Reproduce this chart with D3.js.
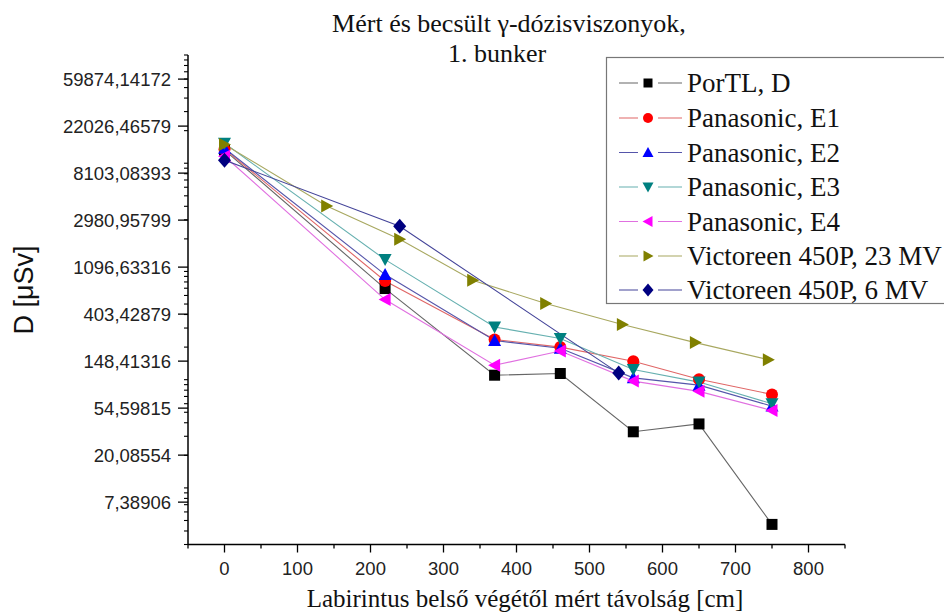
<!DOCTYPE html>
<html>
<head>
<meta charset="utf-8">
<script src="https://cdn.jsdelivr.net/npm/d3@7"></script>
<style>
  body { margin: 0; background: #fff; }
  svg { display: block; }
</style>
</head>
<body>
<svg id="chart" width="944" height="616"></svg>
<script>
// ---- data ----
const seriesNames = ["PorTL, D", "Panasonic, E1", "Panasonic, E2", "Panasonic, E3", "Panasonic, E4", "Victoreen 450P, 23 MV", "Victoreen 450P, 6 MV"];
const xPanasonic = [0, 220, 370, 460, 560, 650, 750];
const xVict23 = [0, 140, 240, 340, 440, 545, 645, 745];
const xVict6 = [0, 240, 540];
const portlD = [13200, 695, 110, 114, 33, 39, 4.6];
const panE1 = [13480, 817, 235, 200, 148, 101, 73];
const panE2 = [13760, 936, 230, 195, 104, 89, 57];
const panE3 = [15300, 1287, 307, 240, 124, 95, 60];
const panE4 = [11600, 550, 136, 184, 97, 78, 52];
const vict23 = [14900, 4030, 1986, 829, 505, 323, 220, 153];
const vict6 = [10680, 2617, 115];
const xTicks = [0, 100, 200, 300, 400, 500, 600, 700, 800];
const yTickExponents = [2, 3, 4, 5, 6, 7, 8, 9, 10, 11];
const yTickLabels = ["7,38906", "20,08554", "54,59815", "148,41316", "403,42879", "1096,63316", "2980,95799", "8103,08393", "22026,46579", "59874,14172"];
const titleLines = ["Mért és becsült γ-dózisviszonyok,", "1. bunker"];
const xTitle = "Labirintus belső végétől mért távolság [cm]";
const yTitle = "D [μSv]";

// ---- styles ----
const colors = ["#000000", "#ff0000", "#0000ff", "#008080", "#ff00ff", "#808000", "#000080"];
const lineColors = ["#666666", "#e06666", "#5555aa", "#66b0b0", "#e070e0", "#a8a860", "#444499"];
const shapes = ["square", "circle", "up", "down", "left", "right", "diamond"];
const serif = "'Liberation Serif', 'Times New Roman', serif";
const sans = "'Liberation Sans', Arial, sans-serif";

const series = [
  {x: xPanasonic, y: portlD},
  {x: xPanasonic, y: panE1},
  {x: xPanasonic, y: panE2},
  {x: xPanasonic, y: panE3},
  {x: xPanasonic, y: panE4},
  {x: xVict23, y: vict23},
  {x: xVict6, y: vict6}
];

const svg = d3.select("#chart");
const pLeft = 188, pRight = 845, pTop = 55, pBottom = 544.5;

const x = d3.scaleLinear().domain([-50, 850]).range([pLeft, pRight]);
const y = d3.scaleLog().domain([3, 100000]).range([pBottom, pTop]);

function markerPath(shape, s) {
  const h = s / 2;
  switch (shape) {
    case "square": return `M${-h},${-h}H${h}V${h}H${-h}Z`;
    case "circle": return d3.symbol(d3.symbolCircle, Math.PI * (h + 0.5) * (h + 0.5))();
    case "up": return `M0,${-h - 1}L${h + 1},${h}L${-h - 1},${h}Z`;
    case "down": return `M0,${h + 1}L${h + 1},${-h}L${-h - 1},${-h}Z`;
    case "left": return `M${-h - 1},0L${h},${-h - 1}L${h},${h + 1}Z`;
    case "right": return `M${h + 1},0L${-h},${-h - 1}L${-h},${h + 1}Z`;
    case "diamond": return `M0,${-h - 2}L${h + 1},0L0,${h + 2}L${-h - 1},0Z`;
  }
}

// ---- axes ----
const ax = svg.append("g").attr("fill", "none").attr("stroke", "#000");
ax.append("line").attr("x1", pLeft).attr("x2", pRight).attr("y1", pBottom).attr("y2", pBottom).attr("stroke-width", 1.5);
ax.append("line").attr("x1", pLeft).attr("x2", pLeft).attr("y1", pTop).attr("y2", pBottom).attr("stroke-width", 1.5);

const xMinor = d3.range(-50, 851, 50).filter(v => v % 100 !== 0);
xTicks.forEach(v => {
  ax.append("line").attr("x1", x(v)).attr("x2", x(v)).attr("y1", pBottom).attr("y2", pBottom + 8).attr("stroke-width", 1.3);
});
xMinor.forEach(v => {
  ax.append("line").attr("x1", x(v)).attr("x2", x(v)).attr("y1", pBottom).attr("y2", pBottom + 4).attr("stroke-width", 1.3);
});
svg.append("g").selectAll("text").data(xTicks).join("text")
  .attr("x", d => x(d)).attr("y", 575)
  .attr("text-anchor", "middle")
  .attr("font-family", sans)
  .attr("font-size", 18.5).attr("fill", "#222")
  .text(d => d);

const yMinor = [];
for (let k = 0; k <= 5; k++) for (let d = 1; d <= 9; d++) {
  const v = d * Math.pow(10, k);
  if (v >= 3 && v <= 100000) yMinor.push(v);
}
yMinor.forEach(v => {
  ax.append("line").attr("x1", pLeft - 4).attr("x2", pLeft).attr("y1", y(v)).attr("y2", y(v)).attr("stroke-width", 1.1);
});
yTickExponents.forEach(e => {
  ax.append("line").attr("x1", pLeft - 10).attr("x2", pLeft).attr("y1", y(Math.exp(e))).attr("y2", y(Math.exp(e))).attr("stroke-width", 1.3);
});
svg.append("g").selectAll("text").data(yTickExponents).join("text")
  .attr("x", 171).attr("y", d => y(Math.exp(d)) + 6.7)
  .attr("text-anchor", "end")
  .attr("font-family", sans)
  .attr("font-size", 18.5).attr("fill", "#222")
  .text((d, i) => yTickLabels[i]);

svg.append("text").attr("x", 525).attr("y", 607).attr("text-anchor", "middle")
  .attr("font-family", serif).attr("font-size", 25).attr("fill", "#111")
  .text(xTitle);
svg.append("text").attr("transform", "translate(33,290) rotate(-90)").attr("text-anchor", "middle")
  .attr("font-family", sans).attr("font-size", 27).attr("fill", "#111")
  .text(yTitle);

svg.append("g").selectAll("text").data(titleLines).join("text")
  .attr("x", (d, i) => i === 0 ? 509 : 497).attr("y", (d, i) => 32 + i * 30)
  .attr("text-anchor", "middle")
  .attr("font-family", serif).attr("font-size", 26).attr("fill", "#111")
  .text(d => d);

// ---- series ----
const line = d3.line().x(d => x(d[0])).y(d => y(d[1]));
series.forEach((s, i) => {
  const pts = s.x.map((xv, j) => [xv, s.y[j]]);
  svg.append("path").datum(pts).attr("d", line)
    .attr("fill", "none").attr("stroke", lineColors[i]).attr("stroke-width", 1.1);
});
series.forEach((s, i) => {
  const pts = s.x.map((xv, j) => [xv, s.y[j]]);
  svg.append("g").selectAll("path").data(pts).join("path")
    .attr("transform", d => `translate(${x(d[0])},${y(d[1])})`)
    .attr("d", markerPath(shapes[i], 11))
    .attr("fill", colors[i]);
});

// ---- legend ----
const lg = svg.append("g");
lg.append("rect").attr("x", 606.5).attr("y", 57.5).attr("width", 345).attr("height", 246)
  .attr("fill", "#fff").attr("stroke", "#777").attr("stroke-width", 1.2);
const rowY = [83, 118, 152.5, 187, 221.5, 256, 290];
seriesNames.forEach((name, i) => {
  const ry = rowY[i];
  lg.append("line").attr("x1", 619).attr("x2", 682).attr("y1", ry).attr("y2", ry)
    .attr("stroke", lineColors[i]).attr("stroke-width", 1.1);
  lg.append("rect").attr("x", 638).attr("y", ry - 6).attr("width", 20).attr("height", 12).attr("fill", "#fff");
  lg.append("path").attr("transform", `translate(648,${ry})`).attr("d", markerPath(shapes[i], 9)).attr("fill", colors[i]);
  lg.append("text").attr("x", 687).attr("y", ry + 9)
    .attr("font-family", serif).attr("font-size", 27).attr("fill", "#111")
    .text(name);
});
</script>
</body>
</html>
